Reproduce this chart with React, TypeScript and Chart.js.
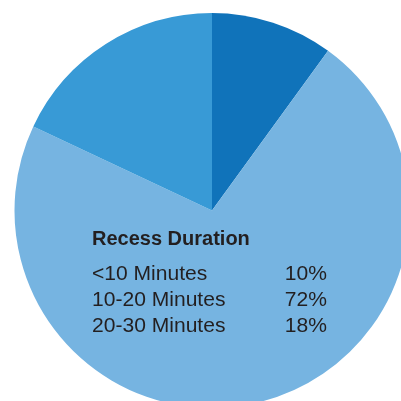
import React, { useEffect, useRef } from "react";
import { Chart, registerables } from "chart.js";

Chart.register(...registerables);

const title = "Recess Duration";
const categories = ["<10 Minutes", "10-20 Minutes", "20-30 Minutes"];
const values = [10, 72, 18];
const valueLabels = ["10%", "72%", "18%"];
const colors = ["#1073ba", "#76b4e1", "#389ad6"];

function drawScaled(
  ctx: CanvasRenderingContext2D,
  text: string,
  x: number,
  y: number,
  sx: number,
  align: CanvasTextAlign
) {
  ctx.save();
  ctx.translate(x, y);
  ctx.scale(sx, 1);
  ctx.textAlign = align;
  ctx.fillText(text, 0, 0);
  ctx.restore();
}

const textPlugin = {
  id: "legendText",
  afterDraw(chart: any) {
    const ctx = chart.ctx as CanvasRenderingContext2D;
    ctx.save();
    ctx.fillStyle = "#231f20";
    ctx.textBaseline = "alphabetic";
    ctx.font = "bold 20px 'Liberation Sans', Arial, sans-serif";
    drawScaled(ctx, title, 92, 245, 1, "left");
    ctx.font = "19.5px 'Liberation Sans', Arial, sans-serif";
    const baselines = [280, 306, 332];
    categories.forEach((c, i) => {
      drawScaled(ctx, c, 92, baselines[i], 1.08, "left");
      drawScaled(ctx, valueLabels[i], 327, baselines[i], 1.08, "right");
    });
    ctx.restore();
  },
};

export default function App() {
  const ref = useRef<HTMLCanvasElement>(null);
  useEffect(() => {
    if (!ref.current) return;
    const chart = new Chart(ref.current, {
      type: "pie",
      data: {
        labels: categories,
        datasets: [
          {
            data: values,
            backgroundColor: colors,
            borderWidth: 0,
          },
        ],
      },
      options: {
        animation: false,
        responsive: false,
        radius: 197.5,
        layout: { padding: 0 },
        plugins: {
          legend: { display: false },
          tooltip: { enabled: false },
        },
      },
      plugins: [textPlugin],
    });
    return () => chart.destroy();
  }, []);
  return (
    <div
      style={{
        position: "fixed",
        left: 0,
        top: 0,
        width: 401,
        height: 401,
        overflow: "hidden",
        background: "#fff",
      }}
    >
      <canvas ref={ref} width={424} height={421} style={{ display: "block" }} />
    </div>
  );
}
